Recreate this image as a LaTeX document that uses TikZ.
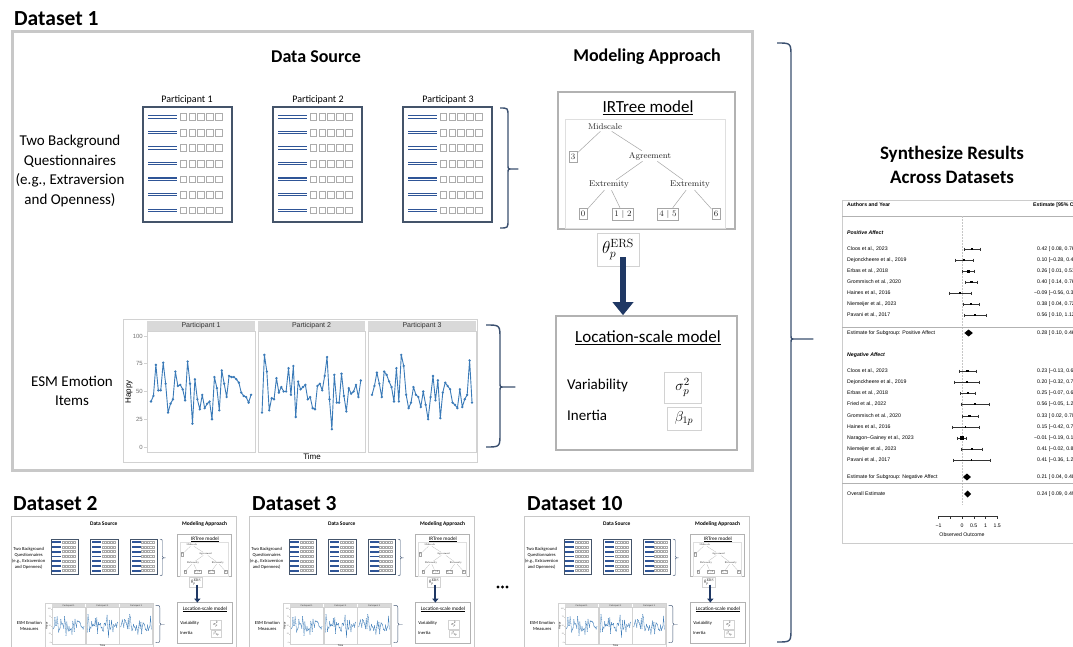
\documentclass[tikz,border=0pt]{standalone}
\usepackage{fontspec}
\newfontfamily\carl{Carlito}
\newfontfamily\ars{Liberation Sans}
\usetikzlibrary{arrows.meta}
\definecolor{navy}{HTML}{1F3864}
\definecolor{qblue}{HTML}{2F5597}
\definecolor{qframe}{HTML}{44546A}
\definecolor{bracec}{HTML}{3B5070}
\definecolor{plotblue}{HTML}{3A7AB8}
\definecolor{framegray}{HTML}{C8C8C8}
\def\lwf{1}
\tikzset{
  ttl/.style={font=\carl\bfseries\fontsize{18}{21}\selectfont, inner sep=0},
  bigttl/.style={font=\carl\bfseries\fontsize{21.5}{24}\selectfont, inner sep=0, anchor=west},
  synth/.style={font=\carl\bfseries\fontsize{19}{24}\selectfont, inner sep=0, align=center},
  body/.style={font=\carl\fontsize{15}{19.5}\selectfont, inner sep=0, align=center},
  ttlr/.style={font=\carl\fontsize{17}{20}\selectfont, inner sep=0},
  lab/.style={font=\carl\fontsize{15}{18}\selectfont, inner sep=0, anchor=west},
  plab/.style={font=\carl\fontsize{10}{12}\selectfont, inner sep=0},
  panelframe/.style={draw=framegray, line width=\lwf*3pt},
  qbox/.style={draw=qframe, line width=\lwf*1.3pt, minimum width=89, minimum height=115, inner sep=0},
  qline/.style={draw=qblue, line width=\lwf*1.1pt},
  qsq/.style={draw=gray!65, line width=\lwf*0.6pt},
  irbox/.style={draw=gray!60, line width=\lwf*2pt, minimum width=177, minimum height=137, inner sep=0},
  lsbox/.style={draw=gray!60, line width=\lwf*1.6pt, minimum width=181, minimum height=134, inner sep=0},
  thinframe/.style={draw=gray!25, line width=\lwf*0.6pt},
  tr/.style={font=\fontsize{8.4}{10}\selectfont, inner sep=1.2, text=black!85},
  leaf/.style={font=\fontsize{8.4}{10}\selectfont, inner sep=2, draw=gray!70, line width=\lwf*0.5pt, text=black!85, minimum height=11},
  tredge/.style={draw=gray!70, line width=\lwf*0.5pt},
  mathbox/.style={draw=gray!35, line width=\lwf*0.6pt, inner sep=0},
  bigarrow/.style={draw=navy, line width=\lwf*6pt, -{Triangle[width=0pt 3.4, length=0pt 2.2]}},
  bracestyle/.style={draw=bracec, line width=\lwf*1.4pt, line join=round},
  plotframe/.style={draw=gray!35, line width=\lwf*0.8pt},
  panelb/.style={draw=gray!35, line width=\lwf*0.7pt},
  stripfill/.style={fill=gray!30},
  strip/.style={font=\ars\fontsize{7}{8}\selectfont, inner sep=0, text=black!80},
  ticklab/.style={font=\ars\fontsize{6}{7}\selectfont, inner sep=0, text=black!55, anchor=east},
  axlab/.style={font=\ars\fontsize{8}{9}\selectfont, inner sep=0},
  serline/.style={draw=plotblue, line width=\lwf*0.9pt, line join=round},
  fpframe/.style={draw=gray!40, line width=0.6pt},
  fpline/.style={draw=gray!60, line width=0.5pt},
  fpdash/.style={draw=gray!45, line width=0.4pt, dashed, dash pattern=on 1.5pt off 1.5pt},
  fpt/.style={font=\ars\fontsize{5.2}{6}\selectfont, inner sep=0},
  fpb/.style={font=\ars\bfseries\fontsize{5.2}{6}\selectfont, inner sep=0},
  fpbi/.style={font=\ars\bfseries\itshape\fontsize{5.2}{6}\selectfont, inner sep=0},
  fpci/.style={draw=black!80, line width=0.4pt},
}
% brace: x, top, bottom, mid, corner a, tip length t
\newcommand\mybrace[6]{%
  \draw[bracestyle] (#1,#2) .. controls ({#1+#5},#2) .. ({#1+#5},{#2+#5})
    -- ({#1+#5},{#4-4}) .. controls ({#1+#5},#4) .. ({#1+#5+4},#4) -- ({#1+#5+#6},#4)
    -- ({#1+#5+4},#4) .. controls ({#1+#5},#4) .. ({#1+#5},{#4+4})
    -- ({#1+#5},{#3-#5}) .. controls ({#1+#5},#3) .. (#1,#3);
}
% series: left, step, first, rest
\newcommand\series[4]{%
  \draw[serline] ({#1+4},{447-1.11*#3}) \foreach[count=\i] \v in {#4}{ -- ({#1+4+\i*#2},{447-1.11*\v}) };
  \fill[plotblue] ({#1+4},{447-1.11*#3}) circle (1.3) \foreach[count=\i] \v in {#4}{ ({#1+4+\i*#2},{447-1.11*\v}) circle (1.3) };
}
\newcommand\drawpanel[1]{%
  \draw[panelframe] (12,32) rectangle (752,470);
  \node[ttl] (ds) at (316,57) {Data Source};
  \node[ttl] (ma) at (647,57) {Modeling Approach};
  \node[body] (qlab) at (70,171) {Two Background\\Questionnaires\\(e.g., Extraversion\\and Openness)};
  \foreach \k/\xl in {1/143,2/273,3/403}{
    \node[qbox] (q\k) at ({\xl+44.5},164.5) {};
    \foreach \j in {0,...,6}{
      \draw[qline] ({\xl+5},{117+15.55*\j-1.2}) -- ({\xl+34},{117+15.55*\j-1.2});
      \draw[qline] ({\xl+5},{117+15.55*\j+1.2}) -- ({\xl+34},{117+15.55*\j+1.2});
      \foreach \m in {0,...,4}
        \draw[qsq] ({\xl+37+8.8*\m},{117+15.55*\j-3.3}) rectangle ++(6.6,6.6);
    }
  }
  \mybrace{500}{108}{228}{169}{8}{10}
  % IRTree
  \node[irbox] (irt) at (646.5,160.5) {};
  \node[ttlr] (irtt) at (648,108) {\underline{IRTree model}};
  \draw[thinframe] (565,119) rectangle (725,228);
  \node[tr] (mid) at (605,127) {Midscale};
  \node[leaf] (l3) at (573,157) {3};
  \node[tr] (agr) at (650,156) {Agreement};
  \node[tr] (exl) at (609,185) {Extremity};
  \node[tr] (exr) at (690,185) {Extremity};
  \node[leaf] (l0) at (583,214) {0};
  \node[leaf] (l12) at (623,214) {1 $|$ 2};
  \node[leaf] (l45) at (668,214) {4 $|$ 5};
  \node[leaf] (l6) at (716,214) {6};
  \draw[tredge] (mid) -- (l3);
  \draw[tredge] (mid) -- (agr);
  \draw[tredge] (agr) -- (exl);
  \draw[tredge] (agr) -- (exr);
  \draw[tredge] (exl) -- (l0);
  \draw[tredge] (exl) -- (l12);
  \draw[tredge] (exr) -- (l45);
  \draw[tredge] (exr) -- (l6);
  \node[mathbox, minimum width=42, minimum height=33, font=\fontsize{17}{17}\selectfont] (th) at (618,249.5) {$\theta_p^{\mathrm{ERS}}$};
  % location-scale
  \node[lsbox] (ls) at (646.5,383) {};
  \node[ttlr] (lst) at (648,338) {\underline{Location-scale model}};
  \node[lab] (var) at (567,385) {Variability};
  \node[mathbox, minimum width=37, minimum height=31, font=\fontsize{15}{15}\selectfont] (sig) at (682.5,387.5) {$\sigma_p^2$};
  \node[lab] (ine) at (567,415) {Inertia};
  \node[mathbox, minimum width=34, minimum height=23, font=\fontsize{14}{14}\selectfont] (bet) at (684,418.5) {$\beta_{1p}$};
  \coordinate (arr) at (623,257);
  \draw[bigarrow] (arr) -- (arr |- ls.north);
  % ESM plot
  \node[body] (esm) at (72,391) {#1};
  \draw[plotframe] (123,319) rectangle (477,462);
  \foreach \k/\a/\b in {1/147/255,2/258/365,3/368/476}{
    \fill[stripfill] (\a,321) rectangle (\b,331);
    \node[strip] (st\k) at ({(\a+\b)/2},326) {Participant \k};
    \draw[panelb] (\a,331) rectangle (\b,452);
  }
  \foreach \v in {0,25,50,75,100}{
    \draw[panelb] (144,{447-1.11*\v}) -- (147,{447-1.11*\v});
    \node[ticklab] (yt\v) at (143,{447-1.11*\v}) {\v};
  }
  \node[axlab, rotate=90] (happy) at (129,392) {Happy};
  \node[axlab] (time) at (312,457) {Time};
  \series{147}{2.44}{41}{46,74,51,51,76,57,31,39,43,68,55,56,52,42,77,57,21,61,43,34,47,35,39,41,25,63,53,33,69,57,45,64,63,63,61,58,49,46,45,40,47}
  \series{258}{2.41}{31}{83,68,33,44,43,62,49,54,50,50,71,47,73,27,59,52,54,56,43,45,35,34,55,57,51,64,81,43,16,65,40,40,66,46,32,53,48,50,56,45,60}
  \series{368}{2.44}{47}{55,67,57,45,68,65,59,54,41,71,41,83,73,47,35,40,54,47,45,36,50,38,25,45,64,42,60,26,49,58,55,52,40,38,35,52,36,43,47,78,40}
  \mybrace{486}{325}{447}{387}{14}{15}
}
% forest row: id, label, y, est, lo, hi, half size, text
\newcommand\frow[8]{%
  \node[fpt, anchor=west] (fl#1) at (847,#3) {#2};
  \draw[fpci] ({962+23.5*#5},#3) -- ({962+23.5*#6},#3);
  \draw[fpci] ({962+23.5*#5},{#3-1.5}) -- ({962+23.5*#5},{#3+1.5});
  \draw[fpci] ({962+23.5*#6},{#3-1.5}) -- ({962+23.5*#6},{#3+1.5});
  \fill ({962+23.5*#4-#7},{#3-#7}) rectangle ({962+23.5*#4+#7},{#3+#7});
  \node[fpt, anchor=west] (fe#1) at (1037,#3) {#8};
}
\newcommand\fdiam[7]{% id, label, y, est, lo, hi, text
  \node[fpt, anchor=west] (fl#1) at (847,#3) {#2};
  \fill ({962+23.5*#5},#3) -- ({962+23.5*#4},{#3-3.5}) -- ({962+23.5*#6},#3) -- ({962+23.5*#4},{#3+3.5}) -- cycle;
  \node[fpt, anchor=west] (fe#1) at (1037,#3) {#7};
}
\begin{document}
\begin{tikzpicture}[x=1pt,y=-1pt]
\useasboundingbox (0,0) rectangle (1073,647);
\clip (0,0) rectangle (1073,647);
\fill[white] (0,0) rectangle (1073,647);
% Dataset 1
\node[bigttl] (t1) at (14,19) {Dataset 1};
\drawpanel{ESM Emotion\\Items}
\node[plab] (p1) at (187,100) {Participant 1};
\node[plab] (p2) at (318,100) {Participant 2};
\node[plab] (p3) at (448,100) {Participant 3};
% thumbnails
\node[bigttl] (t2) at (13,504) {Dataset 2};
\begin{scope}[shift={(7.34,506.24)}, scale=0.305, transform shape, name prefix=dtwo-]
  \def\lwf{0.305}
  \drawpanel{ESM Emotion\\Measures}
\end{scope}
\node[bigttl] (t3) at (252,504) {Dataset 3};
\begin{scope}[shift={(245.34,506.24)}, scale=0.305, transform shape, name prefix=dthree-]
  \def\lwf{0.305}
  \drawpanel{ESM Emotion\\Measures}
\end{scope}
\fill (498,587) circle (1.6) (502.5,587) circle (1.6) (507,587) circle (1.6);
\node[bigttl] (t10) at (527,504) {Dataset 10};
\begin{scope}[shift={(520.34,506.24)}, scale=0.305, transform shape, name prefix=dten-]
  \def\lwf{0.305}
  \drawpanel{ESM Emotion\\Measures}
\end{scope}
% big brace
\mybrace{777}{43}{642}{339}{14}{22}
% synthesize
\node[synth] (syn) at (952,165) {Synthesize Results\\Across Datasets};
% forest plot
\begin{scope}
\clip (838,195) rectangle (1073,547);
\draw[fpframe] (842,200) rectangle (1085,543);
\node[fpb, anchor=west] (fah) at (847,205) {Authors and Year};
\node[fpb, anchor=west] (feh) at (1033,205) {Estimate [95\% CI]};
\draw[fpline] (842,216) -- (1085,216);
\draw[fpdash] (962,216) -- (962,505);
\node[fpbi, anchor=west] (fpos) at (847,233) {Positive Affect};
\frow{a1}{Cloos et al., 2023}{249}{0.42}{0.08}{0.76}{1.1}{0.42 [ 0.08, 0.76]}
\frow{a2}{Dejonckheere et al., 2019}{260}{0.10}{-0.28}{0.48}{1.0}{0.10 [−0.28, 0.48]}
\frow{a3}{Erbas et al., 2018}{271}{0.26}{0.01}{0.51}{1.5}{0.26 [ 0.01, 0.51]}
\frow{a4}{Grommisch et al., 2020}{282}{0.40}{0.14}{0.66}{1.3}{0.40 [ 0.14, 0.76]}
\frow{a5}{Haines et al., 2016}{293}{-0.09}{-0.56}{0.38}{0.8}{\llap{−}0.09 [−0.56, 0.38]}
\frow{a6}{Niemeijer et al., 2023}{304}{0.38}{0.04}{0.72}{1.1}{0.38 [ 0.04, 0.72]}
\frow{a7}{Pavani et al., 2017}{315}{0.56}{0.10}{1.02}{0.8}{0.56 [ 0.10, 1.12]}
\draw[fpline] (842,327) -- (1085,327);
\fdiam{as}{Estimate for Subgroup: Positive Affect}{333}{0.28}{0.10}{0.46}{0.28 [ 0.10, 0.46]}
\node[fpbi, anchor=west] (fneg) at (847,355) {Negative Affect};
\frow{b1}{Cloos et al., 2023}{371}{0.23}{-0.13}{0.59}{1.1}{0.23 [−0.13, 0.69]}
\frow{b2}{Dejonckheere et al., 2019}{382}{0.20}{-0.32}{0.72}{0.8}{0.20 [−0.32, 0.72]}
\frow{b3}{Erbas et al., 2018}{393}{0.25}{-0.07}{0.57}{1.3}{0.25 [−0.07, 0.67]}
\frow{b4}{Fried et al., 2022}{404}{0.56}{-0.05}{1.17}{0.7}{0.56 [−0.05, 1.27]}
\frow{b5}{Grommisch et al., 2020}{416}{0.33}{0.02}{0.70}{1.3}{0.33 [ 0.02, 0.70]}
\frow{b6}{Haines et al., 2016}{427}{0.15}{-0.42}{0.72}{0.7}{0.15 [−0.42, 0.72]}
\frow{b7}{Naragon–Gainey et al., 2023}{438}{-0.01}{-0.19}{0.17}{2.2}{\llap{−}0.01 [−0.19, 0.17]}
\frow{b8}{Niemeijer et al., 2023}{449}{0.41}{-0.02}{0.84}{1.0}{0.41 [−0.02, 0.84]}
\frow{b9}{Pavani et al., 2017}{460}{0.41}{-0.36}{1.18}{0.6}{0.41 [−0.36, 1.28]}
\fdiam{bs}{Estimate for Subgroup: Negative Affect}{477}{0.21}{0.04}{0.38}{0.21 [ 0.04, 0.48]}
\draw[fpline] (842,483) -- (1085,483);
\fdiam{ov}{Overall Estimate}{494}{0.24}{0.09}{0.39}{0.24 [ 0.09, 0.49]}
\draw[fpci] (938.5,516) -- (997,516);
\foreach \v/\s in {-1/{−1},-0.5/{},0/0,0.5/0.5,1/1,1.5/1.5}{
  \draw[fpci] ({962+23.5*\v},516) -- ({962+23.5*\v},519);
  \node[fpt] (ax\v) at ({962+23.5*\v},526) {\s};
}
\node[fpt] (obs) at (962,535) {Observed Outcome};
\end{scope}
\end{tikzpicture}
\end{document}
